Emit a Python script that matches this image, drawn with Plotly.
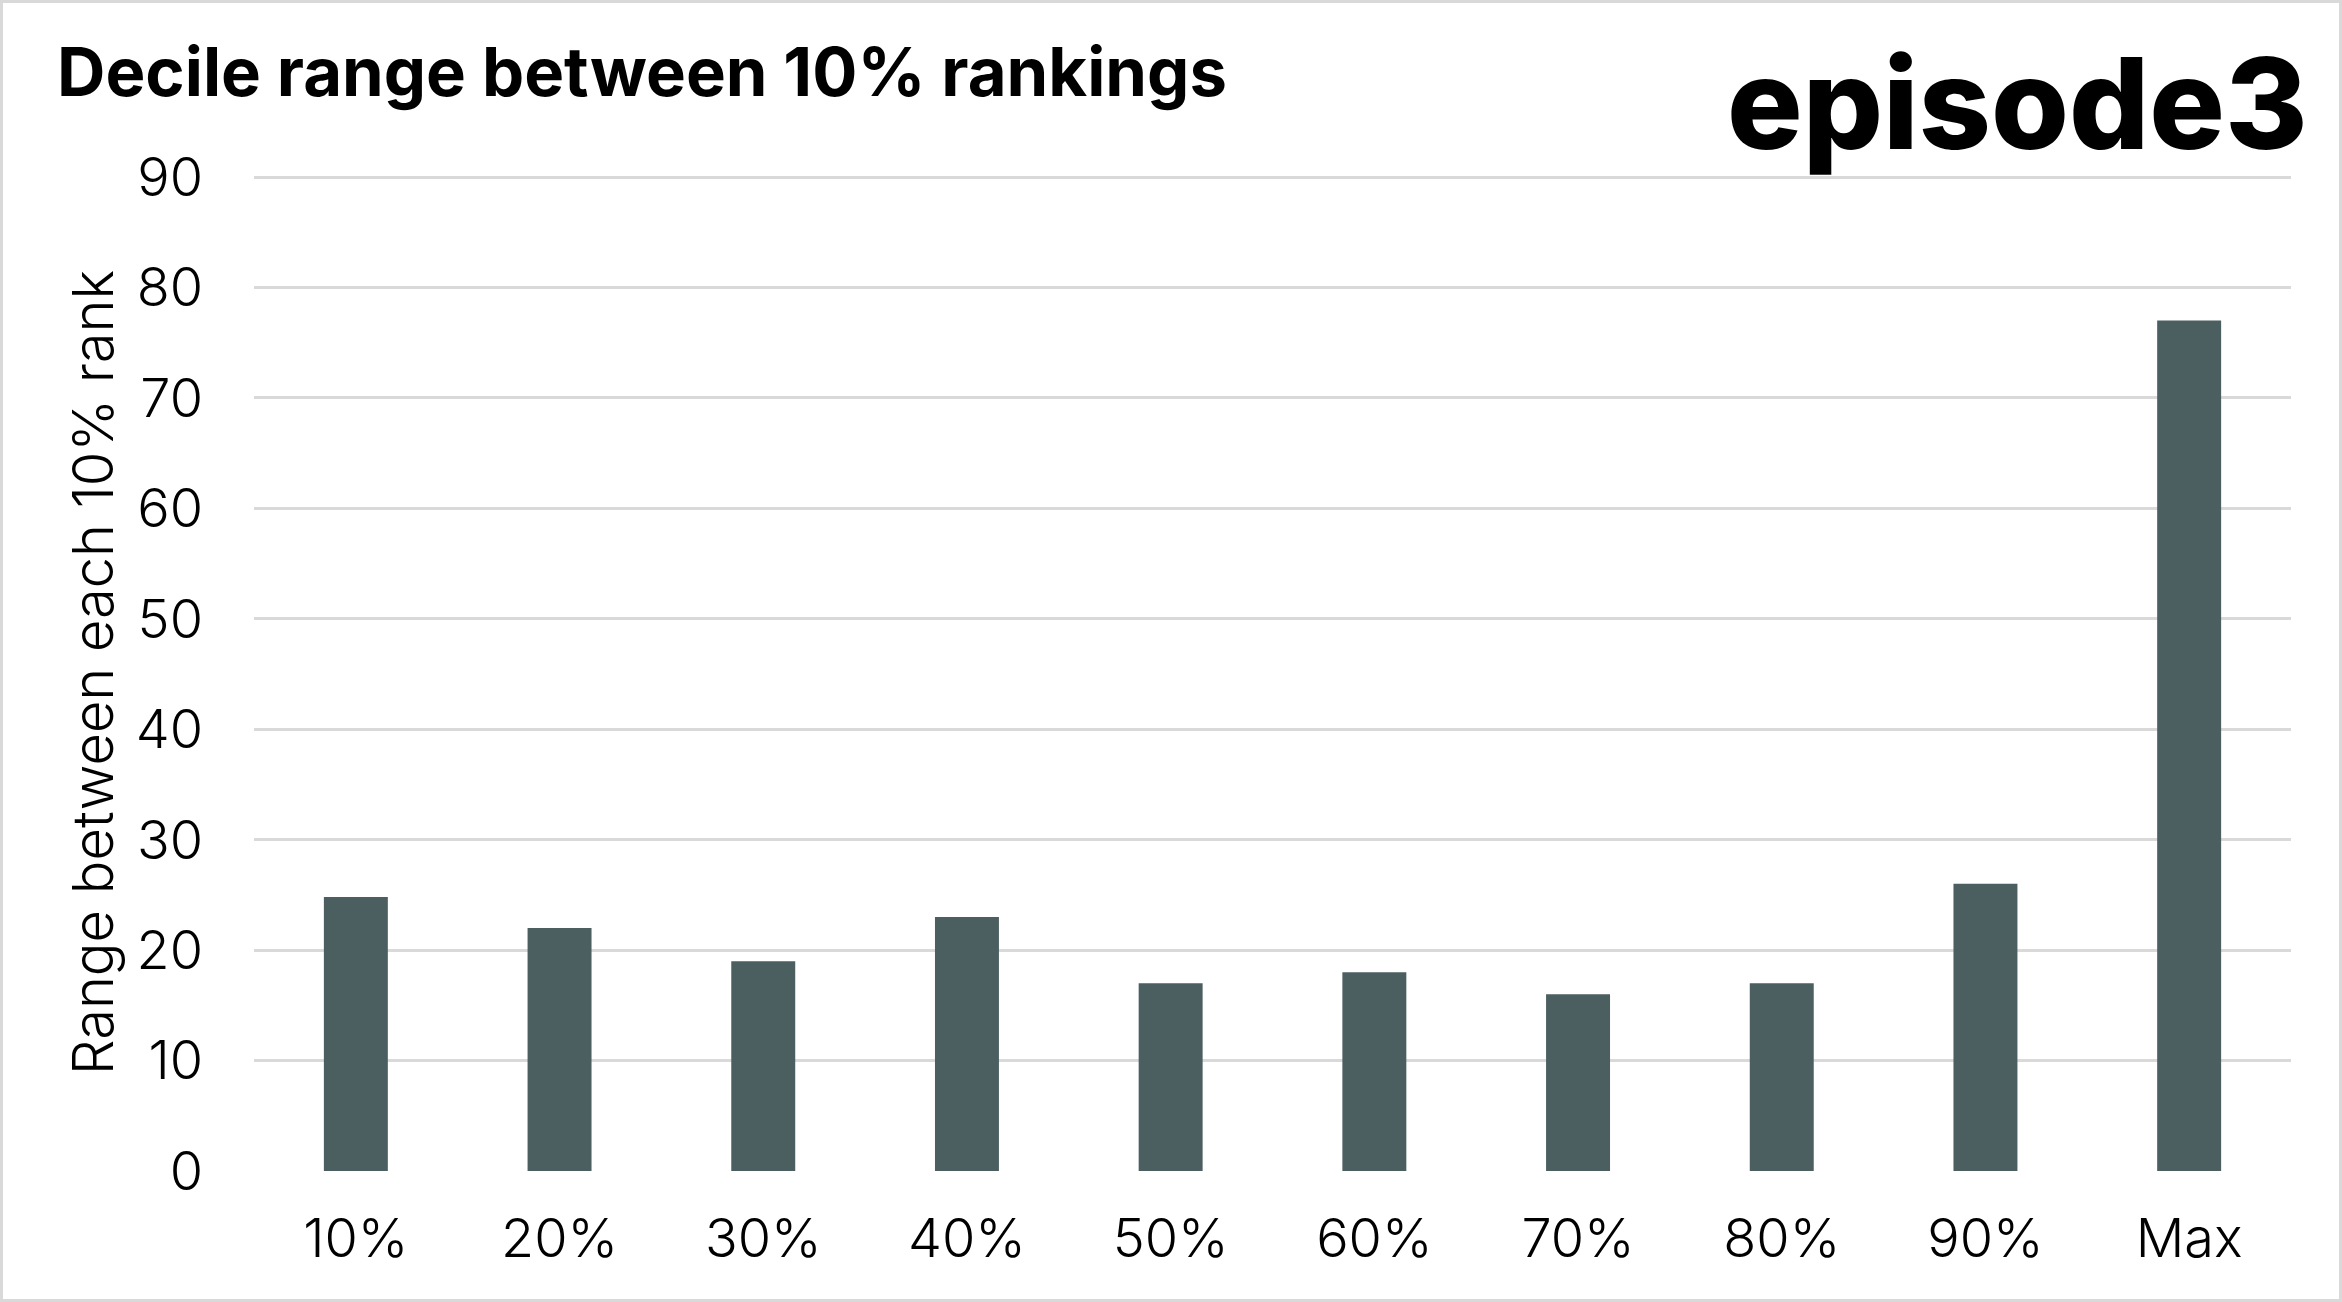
import plotly.graph_objects as go

categories = ["10%", "20%", "30%", "40%", "50%", "60%", "70%", "80%", "90%", "Max"]
values = [24.8, 22, 19, 23, 17, 18, 16, 17, 26, 77]
y_ticks = [0, 10, 20, 30, 40, 50, 60, 70, 80, 90]

W, H = 2342, 1302
L, R, T, B = 254, 51, 166, 131
PW, PH = W - L - R, H - T - B

def px(x):
    return (x - L) / PW

def py(y):
    return (H - B - y) / PH

BAR = "#4b5e60"
GRID = "#d9d9d9"
FONT = "Inter"

fig = go.Figure(go.Bar(x=categories, y=values, marker=dict(color=BAR, line=dict(width=0))))

fig.update_layout(
    width=W, height=H,
    margin=dict(l=L, r=R, t=T, b=B),
    paper_bgcolor="white", plot_bgcolor="white",
    bargap=0.686,
    showlegend=False,
    font=dict(family=FONT, color="#000000"),
)
fig.update_yaxes(
    range=[0, 91], tickvals=y_ticks, showgrid=True, gridcolor=GRID, gridwidth=3,
    zeroline=False, showline=False, ticks="", ticklabelstandoff=50,
    tickfont=dict(family=FONT, size=54, weight=300, color="#000000"),
)
fig.update_xaxes(
    showgrid=False, showline=False, ticks="", ticklabelstandoff=31,
    tickfont=dict(family=FONT, size=54, weight=300, color="#000000"),
)

fig.add_annotation(
    text="Decile range between 10% rankings", xref="paper", yref="paper",
    x=px(55), y=py(71), xanchor="left", yanchor="middle", showarrow=False,
    font=dict(family=FONT, size=67, weight=700, color="#000000"),
)
fig.add_annotation(
    text="episode3", xref="paper", yref="paper",
    x=px(2310), y=py(103), xanchor="right", yanchor="middle", showarrow=False,
    font=dict(family=FONT, size=126, weight=800, color="#000000"),
)
fig.add_annotation(
    text="Range between each 10% rank", xref="paper", yref="paper",
    x=px(93), y=py(673), xanchor="center", yanchor="middle", showarrow=False,
    textangle=-90,
    font=dict(family=FONT, size=56, weight=300, color="#000000"),
)
fig.add_shape(
    type="rect", xref="paper", yref="paper",
    x0=px(1.5), x1=px(W - 1.5), y0=py(H - 1.5), y1=py(1.5),
    line=dict(color=GRID, width=3), fillcolor="rgba(0,0,0,0)", layer="above",
)

fig.write_html("out.html", config={"displayModeBar": False},
               post_script="document.body.style.margin='0';")
